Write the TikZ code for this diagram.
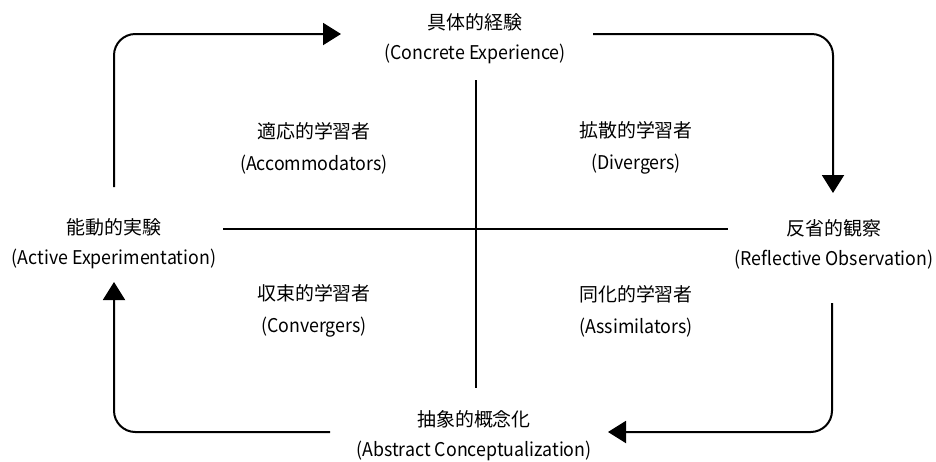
\documentclass[tikz,border=0pt]{standalone}
\usepackage{fontspec}
\setmainfont{Noto Sans CJK JP}
\newfontfamily\engfont[FakeStretch=0.94]{Noto Sans CJK JP}
\usetikzlibrary{arrows.meta,calc}
\tikzset{
  stage/.style={align=center, inner sep=0pt, font=\fontsize{14.2pt}{22.5pt}\selectfont},
  style4/.style={align=center, inner sep=0pt, font=\fontsize{14.2pt}{24pt}\selectfont},
  flow/.style={line width=1.5pt, rounded corners=16pt,
    -{Triangle[length=13.5pt,width=16.5pt]}},
  axis/.style={line width=1.5pt}
}
\begin{document}
\begin{tikzpicture}[x=0.75pt,y=-0.75pt]
\useasboundingbox (0,0) rectangle (936,461);

% the four stages of the cycle
\node[stage] (ce) at (475,39)  {具体的経験\\{\engfont (Concrete Experience)}};
\node[stage] (ro) at (834,244) {反省的観察\\{\engfont (Reflective Observation)}};
\node[stage] (ac) at (474,436) {抽象的概念化\\{\engfont (Abstract Conceptualization)}};
\node[stage] (ae) at (114,244) {能動的実験\\{\engfont (Active Experimentation)}};

% the four learning styles
\node[style4] (acc) at (314,148) {適応的学習者\\{\engfont (Accommodators)}};
\node[style4] (div) at (636,148) {拡散的学習者\\{\engfont (Divergers)}};
\node[style4] (con) at (314,311) {収束的学習者\\{\engfont (Convergers)}};
\node[style4] (ass) at (636,311) {同化的学習者\\{\engfont (Assimilators)}};

% axes dividing the quadrants
\draw[axis] ($(ce)+(1,41)$) -- ($(ac)+(2,-48)$);
\draw[axis] ($(ae)+(109,-15)$) -- ($(ro)+(-106,-15)$);

% cycle arrows
\draw[flow] ($(ae)+(0,-57)$) |- ($(ce)+(-134,-5)$);
\draw[flow] ($(ce)+(118,-5)$) -| ($(ro)+(-1,-51)$);
\draw[flow] ($(ro)+(-2,59)$) |- ($(ac)+(134,-4)$);
\draw[flow] ($(ac)+(-144,-4)$) -| ($(ae)+(0,38)$);
\end{tikzpicture}
\end{document}
